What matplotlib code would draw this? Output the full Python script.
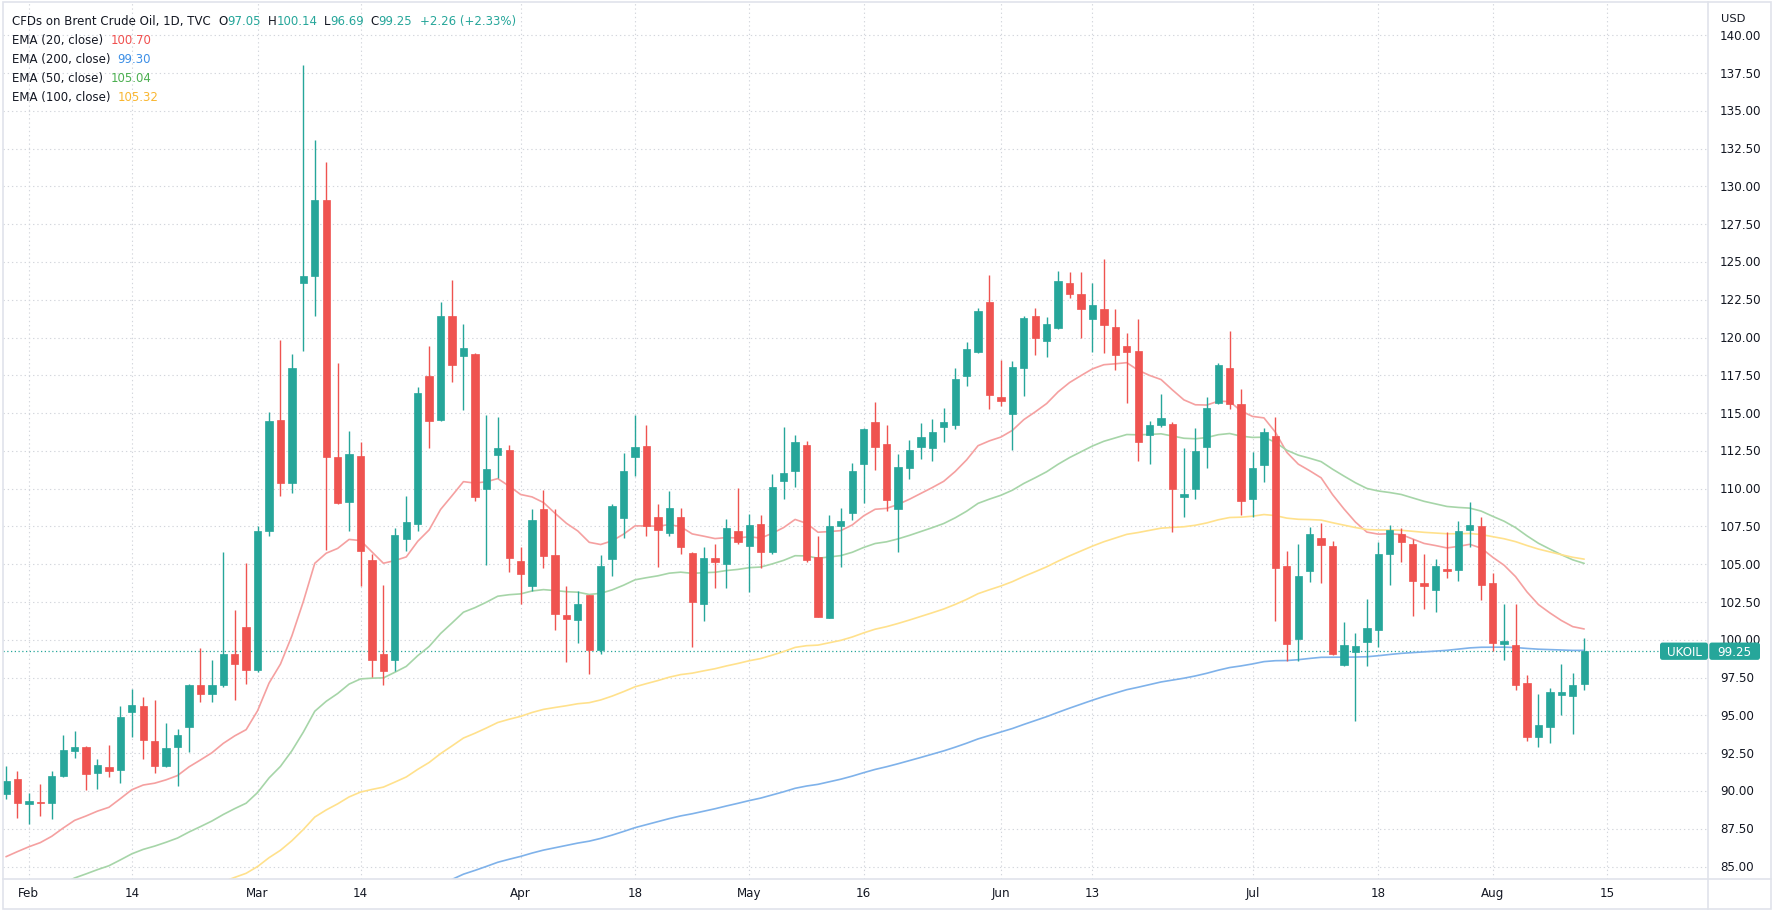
import matplotlib
matplotlib.use("Agg")
import matplotlib.pyplot as plt
from matplotlib.patches import FancyBboxPatch, Rectangle
from matplotlib.lines import Line2D
from matplotlib.transforms import Affine2D
import numpy as np
import pandas as pd

# ---------------- data ----------------
start_date = "2022-01-28"
closed_days = ["2022-04-15"]

opens = [89.83, 90.82, 89.12, 89.30, 89.18, 90.96, 92.66, 92.94, 91.16, 91.61,
         91.38, 95.20, 95.62, 93.31, 91.67, 92.94, 94.21, 97.04, 96.39, 96.98,
         99.07, 100.85, 97.97, 107.21, 114.56, 110.38, 123.61, 124.05, 129.10, 112.07,
         109.13, 112.16, 105.29, 99.07, 98.68, 106.70, 107.64, 117.44, 114.56, 121.45,
         118.80, 118.91, 109.99, 112.24, 112.57, 105.22, 103.57, 108.65, 105.60, 101.64,
         101.32, 102.97, 99.33, 105.33, 108.09, 112.11, 112.80, 108.12, 107.06, 108.12,
         105.73, 102.38, 105.44, 105.02, 107.23, 106.22, 107.67, 105.84, 110.52, 111.18,
         112.86, 105.51, 101.47, 107.54, 108.38, 111.65, 114.41, 112.95, 108.67, 111.36,
         112.75, 112.68, 114.05, 114.20, 117.47, 119.06, 122.32, 116.04, 114.93, 118.00,
         121.44, 119.79, 120.60, 123.62, 122.87, 121.20, 121.86, 120.71, 119.45, 119.10,
         113.54, 114.20, 114.31, 109.46, 109.97, 112.73, 115.68, 118.00, 115.59, 109.31,
         111.56, 113.50, 104.90, 100.04, 104.56, 106.77, 106.22, 98.32, 99.20, 99.87,
         100.64, 105.67, 107.03, 106.37, 103.79, 103.30, 104.69, 104.59, 107.24, 107.54,
         103.75, 99.74, 99.67, 97.12, 93.55, 94.21, 96.32, 96.26, 97.05]

highs = [91.67, 91.33, 89.89, 90.48, 91.33, 93.70, 93.98, 93.00, 92.09, 93.02,
         95.62, 96.75, 96.24, 96.05, 94.49, 94.12, 97.10, 99.44, 98.65, 105.80,
         101.98, 105.09, 107.55, 115.07, 119.85, 118.94, 138.03, 133.07, 131.59, 118.29,
         113.85, 113.06, 105.66, 103.62, 107.41, 109.53, 116.76, 119.42, 122.35, 123.79,
         120.90, 118.95, 114.85, 114.76, 112.86, 106.17, 108.65, 109.90, 108.65, 103.57,
         103.26, 102.97, 105.58, 109.02, 112.35, 114.85, 114.19, 109.02, 109.82, 108.71,
         105.84, 106.17, 106.35, 108.00, 110.04, 108.34, 108.27, 110.96, 114.05, 113.52,
         113.17, 106.90, 108.27, 108.71, 111.69, 114.00, 115.71, 114.19, 112.29, 113.24,
         114.34, 114.61, 115.33, 118.00, 119.68, 121.97, 124.13, 118.51, 118.44, 121.44,
         121.93, 121.37, 124.42, 124.35, 124.35, 123.62, 125.17, 121.86, 120.27, 121.22,
         114.47, 116.26, 114.42, 112.70, 114.03, 116.04, 118.29, 120.43, 116.59, 112.40,
         114.03, 114.76, 105.87, 106.37, 107.48, 107.70, 106.53, 101.19, 100.42, 102.67,
         106.48, 107.63, 107.41, 106.70, 105.71, 105.34, 107.16, 107.83, 109.09, 108.12,
         104.41, 102.39, 102.39, 97.65, 96.41, 96.81, 98.40, 97.80, 100.14]

lows = [89.46, 88.19, 87.79, 88.36, 88.13, 90.90, 92.18, 90.03, 90.11, 90.90,
        90.54, 93.59, 92.09, 91.16, 91.60, 90.31, 92.60, 95.91, 95.91, 96.90,
        96.05, 97.09, 97.90, 106.87, 109.53, 109.70, 119.08, 121.43, 105.94, 109.00,
        107.21, 103.54, 97.52, 96.98, 97.94, 105.85, 107.21, 112.72, 114.50, 117.06,
        115.22, 109.20, 104.96, 110.70, 104.52, 102.35, 103.24, 104.74, 100.65, 98.56,
        99.77, 97.74, 99.06, 104.19, 106.77, 110.85, 106.88, 104.85, 106.90, 105.69,
        99.55, 101.25, 103.41, 103.41, 106.33, 103.19, 104.74, 105.67, 109.33, 110.08,
        105.18, 101.50, 101.45, 104.85, 107.94, 109.04, 111.21, 108.53, 105.84, 110.65,
        111.98, 111.80, 113.08, 113.92, 116.81, 119.00, 115.26, 115.48, 112.59, 116.15,
        118.84, 118.73, 120.55, 122.63, 119.94, 119.06, 118.99, 117.84, 115.64, 111.84,
        111.62, 114.10, 107.14, 108.14, 109.31, 111.34, 115.60, 115.26, 108.29, 108.14,
        110.45, 101.23, 98.61, 98.61, 103.84, 103.77, 99.00, 98.30, 94.61, 98.25,
        99.53, 103.66, 105.16, 101.59, 102.03, 101.81, 104.10, 103.86, 106.11, 102.65,
        99.23, 98.64, 96.65, 93.33, 92.88, 93.17, 95.04, 93.77, 96.69]

closes = [90.68, 89.18, 89.35, 89.20, 90.96, 92.74, 92.88, 91.10, 91.72, 91.33,
          94.92, 95.68, 93.36, 91.67, 92.85, 93.70, 97.04, 96.39, 97.04, 99.07,
          98.37, 97.97, 107.21, 114.47, 110.38, 118.01, 124.10, 129.10, 112.07, 109.05,
          112.30, 105.85, 98.68, 97.94, 106.93, 107.78, 116.31, 114.47, 121.45, 118.20,
          119.31, 109.46, 111.29, 112.66, 105.44, 104.36, 107.92, 105.55, 101.69, 101.38,
          102.35, 99.33, 104.91, 108.87, 111.18, 112.73, 107.54, 107.28, 108.71, 106.13,
          102.49, 105.44, 105.18, 107.39, 106.50, 107.61, 105.84, 110.08, 111.03, 113.08,
          105.25, 101.54, 107.56, 107.83, 111.18, 113.94, 112.75, 109.26, 111.43, 112.57,
          113.39, 113.74, 114.41, 117.29, 119.23, 121.75, 116.23, 115.79, 118.06, 121.31,
          119.98, 120.87, 123.76, 122.85, 121.86, 122.15, 120.82, 118.84, 119.06, 113.10,
          114.20, 114.65, 109.97, 109.64, 112.48, 115.37, 118.18, 115.59, 109.17, 111.38,
          113.76, 104.72, 99.75, 104.23, 107.03, 106.26, 99.05, 99.64, 99.58, 100.81,
          105.71, 107.26, 106.48, 103.88, 103.57, 104.91, 104.58, 107.17, 107.61, 103.64,
          99.78, 99.89, 97.03, 93.55, 94.38, 96.54, 96.54, 96.99, 99.25]

tick_dates = ["2022-02-01", "2022-02-14", "2022-03-01", "2022-03-14", "2022-04-01",
              "2022-04-18", "2022-05-02", "2022-05-16", "2022-06-01", "2022-06-13",
              "2022-07-01", "2022-07-18", "2022-08-01", "2022-08-15"]
tick_labels = ["Feb", "14", "Mar", "14", "Apr", "18", "May", "16", "Jun", "13",
               "Jul", "18", "Aug", "15"]

# EMA settings, order as in legend; anchors are values
ema_periods = [20, 200, 50, 100]
ema_anchor_bar = [0, 138, 9, 22]
ema_anchor_val = [85.65, 99.30, 85.05, 85.00]
ema_legend_vals = [100.70, 99.30, 105.04, 105.32]

price_ticks = np.arange(85, 140.01, 2.5)
symbol = "UKOIL"
title = "CFDs on Brent Crude Oil, 1D, TVC"

# ---------------- style ----------------
UP = "#26a69a"
DOWN = "#ef5350"
TXT = "#131722"
GRID = "#d3d6dc"
BORDER = "#e0e3eb"
ema_line_colors = ["#f5a0a0", "#7fb2ea", "#a6d5a8", "#ffe18c"]
ema_text_colors = ["#f0504f", "#3d8fe6", "#4caf50", "#f9b630"]

plt.rcParams["font.family"] = ["DejaVu Sans"]

W, H = 1778, 920
fig = plt.figure(figsize=(W / 100, H / 100), dpi=100)
fig.patch.set_facecolor("white")
tr = Affine2D().scale(1, -1).translate(0, H)  # pixel coords, origin top-left

# pixel geometry of plot
PX0, PX1, PY0, PY1 = 3, 1708, 3, 880
BAR0, BARW = 6.0, 11.436
Y140, YPU = 36.3, 15.113


def bar_to_px(i):
    return BAR0 + BARW * i


def price_to_py(p):
    return Y140 + (140 - p) * YPU


ax = fig.add_axes([PX0 / W, 1 - PY1 / H, (PX1 - PX0) / W, (PY1 - PY0) / H])
ax.set_xlim((PX0 - BAR0) / BARW, (PX1 - BAR0) / BARW)
ax.set_ylim(140 - (PY1 - Y140) / YPU, 140 + (Y140 - PY0) / YPU)
for s in ax.spines.values():
    s.set_visible(False)
ax.set_xticks([])
ax.set_yticks([])
ax.patch.set_alpha(0)

# dates / positions
cal = [d for d in pd.bdate_range(start_date, "2022-08-31")
       if d.strftime("%Y-%m-%d") not in closed_days]
cal_idx = {d.strftime("%Y-%m-%d"): k for k, d in enumerate(cal)}
tick_pos = [cal_idx[d] for d in tick_dates]

n = len(closes)
x = np.arange(n)
o = np.array(opens)
h = np.array(highs)
l = np.array(lows)
c = np.array(closes)

# grid
for p in price_ticks:
    ax.axhline(p, color=GRID, lw=0.8, ls=(0, (1.2, 2.6)), zorder=0)
for t in tick_pos:
    ax.axvline(t, color=GRID, lw=0.8, ls=(0, (1.2, 2.6)), zorder=0)

# EMAs
def ema(vals, period, k, v):
    a = 2.0 / (period + 1)
    z = np.zeros(len(vals))
    prev = 0.0
    for t, val in enumerate(vals):
        prev = a * val + (1 - a) * prev
        z[t] = prev
    decay = (1 - a) ** (np.arange(len(vals)) + 1)
    seed = (v - z[k]) / decay[k]
    return z + decay * seed

for per, kb, kv, col in zip(ema_periods, ema_anchor_bar, ema_anchor_val, ema_line_colors):
    ax.plot(x, ema(c, per, kb, kv), color=col, lw=1.2, zorder=2, solid_capstyle="round")

# candles
up = c >= o
cols = np.where(up, UP, DOWN)
ax.vlines(x, l, h, colors=cols, lw=1.0, zorder=3)
body_lo = np.minimum(o, c)
body_h = np.maximum(np.abs(c - o), 0.07)
ax.bar(x, body_h, bottom=body_lo, width=0.64, color=cols, edgecolor=cols, lw=0.5, zorder=4)

# last price line
last = closes[-1]
ax.axhline(last, color=UP, lw=0.9, ls=(0, (1.0, 2.0)), zorder=1)

# ---------------- frame ----------------
fig.add_artist(Rectangle((2.7, 3.3), 1768, 906.7, transform=tr, fill=False,
                         edgecolor=BORDER, lw=1.2))
fig.add_artist(Line2D([PX1, PX1], [3.3, 910], transform=tr, color=BORDER, lw=1.2))
fig.add_artist(Line2D([2.7, 1770.7], [PY1, PY1], transform=tr, color=BORDER, lw=1.2))

# price axis labels
AX_FS = 8.6
for p in price_ticks:
    fig.text(1720, price_to_py(p), f"{p:.2f}", transform=tr, fontsize=AX_FS,
             color=TXT, ha="left", va="center")
fig.text(1721, 19.5, "USD", transform=tr, fontsize=AX_FS - 0.4, color=TXT,
         ha="left", va="center")

# date labels
for t, lab in zip(tick_pos, tick_labels):
    fig.text(bar_to_px(t), 894, lab, transform=tr, fontsize=AX_FS, color=TXT,
             ha="center", va="center")

# last price badge
ly = price_to_py(last)
fig.add_artist(FancyBboxPatch((1660, ly - 8.6), 48, 17.3, transform=tr,
                              boxstyle="round,pad=0,rounding_size=2.5",
                              facecolor=UP, edgecolor=UP, lw=0, zorder=5))
fig.add_artist(FancyBboxPatch((1709.3, ly - 8.6), 50.7, 17.3, transform=tr,
                              boxstyle="round,pad=0,rounding_size=2.5",
                              facecolor=UP, edgecolor=UP, lw=0, zorder=5))
fig.text(1684, ly + 0.3, symbol, transform=tr, fontsize=AX_FS, color="white",
         ha="center", va="center", zorder=6)
fig.text(1734.6, ly + 0.3, f"{last:.2f}", transform=tr, fontsize=AX_FS, color="white",
         ha="center", va="center", zorder=6)

# ---------------- header / legend ----------------
renderer = fig.canvas.get_renderer()
HFS = 8.5


def seq_text(x0, y0, parts):
    xx = x0
    for s, col in parts:
        t = fig.text(xx, y0, s, transform=tr, fontsize=HFS, color=col,
                     ha="left", va="baseline")
        xx += t.get_window_extent(renderer).width
    return xx

chg = closes[-1] - closes[-2]
pct = chg / closes[-2] * 100
seq_text(11.5, 25, [(title, TXT)])
seq_text(218, 25, [("O", TXT), (f"{opens[-1]:.2f}", UP)])
seq_text(268, 25, [("H", TXT), (f"{highs[-1]:.2f}", UP)])
seq_text(324, 25, [("L", TXT), (f"{lows[-1]:.2f}", UP)])
seq_text(370, 25, [("C", TXT), (f"{closes[-1]:.2f}", UP)])
seq_text(420, 25, [(f"{chg:+.2f} ({pct:+.2f}%)", UP)])

row_base = [44.2, 63.2, 81.8, 100.6]
val_x = [111, 117.5, 111, 118]
for per, v, col, yb, vx in zip(ema_periods, ema_legend_vals, ema_text_colors, row_base, val_x):
    seq_text(11.5, yb, [(f"EMA ({per}, close)", TXT)])
    seq_text(vx, yb, [(f"{v:.2f}", col)])

fig.savefig("out.png", dpi=100, facecolor="white")
